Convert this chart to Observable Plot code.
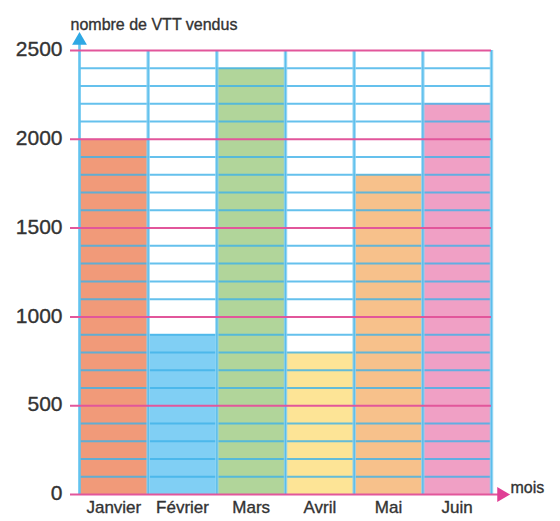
<!DOCTYPE html>
<html>
<head>
<meta charset="utf-8">
<script src="https://cdn.jsdelivr.net/npm/d3@7"></script>
<script src="https://cdn.jsdelivr.net/npm/@observablehq/plot@0.6"></script>
<style>
  html, body { margin: 0; padding: 0; background: #fff; }
  #chart svg { display: block; font-family: "Liberation Sans", Arial, sans-serif; }
</style>
</head>
<body>
<div id="chart"></div>
<script>
const months = ["Janvier", "Février", "Mars", "Avril", "Mai", "Juin"];
const sales = [2000, 900, 2400, 800, 1800, 2200];
const barColors = ["#f19a79", "#80cff4", "#b1d59a", "#fde496", "#f7c18b", "#f0a0c5"];
const majorTicks = [0, 500, 1000, 1500, 2000, 2500];
const minorTicks = [100, 200, 300, 400, 600, 700, 800, 900, 1100, 1200, 1300, 1400,
                    1600, 1700, 1800, 1900, 2100, 2200, 2300, 2400];
const yTitle = "nombre de VTT vendus";
const xTitle = "mois";

const data = months.map((m, i) => ({month: m, i, value: sales[i], color: barColors[i]}));
const columnEdges = d3.range(0, months.length + 1);

const blue = "#3fb2e8";
const magenta = "#e2569b";
const ink = "#333333";
const textStroke = {stroke: ink, strokeWidth: 0.35};

const chart = Plot.plot({
  width: 560,
  height: 521,
  marginLeft: 79,
  marginRight: 69,
  marginTop: 50,
  marginBottom: 27,
  x: {domain: [0, months.length], axis: null},
  y: {domain: [0, 2500], axis: null},
  color: {type: "identity"},
  marks: [
    Plot.rectY(data, {x1: "i", x2: d => d.i + 1, y1: 0, y2: "value", fill: "color"}),
    Plot.ruleY(minorTicks, {stroke: blue, strokeWidth: 2, strokeOpacity: 0.8}),
    Plot.ruleX(columnEdges.slice(1), {y1: 0, y2: 2500, stroke: "#8fd4f3", strokeWidth: 3.5, strokeOpacity: 0.85}),
    Plot.ruleX(columnEdges.slice(1), {y1: 0, y2: 2500, stroke: "#4ab6ea", strokeWidth: 1.4, strokeOpacity: 0.8}),
    Plot.ruleX([0], {y1: 0, y2: 2560, stroke: "#62c3ef", strokeWidth: 2.6}),
    Plot.dot([0], {frameAnchor: "top-left", dy: -10, symbol: "triangle", r: 5.5, fill: "#2ea8e4", stroke: "none"}),
    Plot.ruleY(majorTicks.slice(1), {stroke: magenta, strokeWidth: 2, insetLeft: -9}),
    Plot.ruleY([0], {stroke: magenta, strokeWidth: 2, insetLeft: -9, insetRight: -10}),
    Plot.dot([0], {frameAnchor: "bottom-right", dx: 10, symbol: "triangle", rotate: 90, r: 5.5, fill: "#e03f95", stroke: "none"}),
    Plot.text(majorTicks, {x: 0, y: d => d, text: d => String(d), textAnchor: "end", dx: -17, dy: -1, fontSize: 21, fill: ink, ...textStroke}),
    Plot.text(data, {x: d => d.i + 0.5, y: 0, text: "month", dy: 13, fontSize: 17, fill: ink, ...textStroke}),
    Plot.text([xTitle], {frameAnchor: "bottom-right", dx: 19, dy: -2, textAnchor: "start", fontSize: 16, fill: ink, ...textStroke}),
    Plot.text([yTitle], {frameAnchor: "top-left", dx: -9, dy: -32, textAnchor: "start", fontSize: 16, fill: ink, ...textStroke})
  ]
});
document.getElementById("chart").appendChild(chart);
</script>
</body>
</html>
